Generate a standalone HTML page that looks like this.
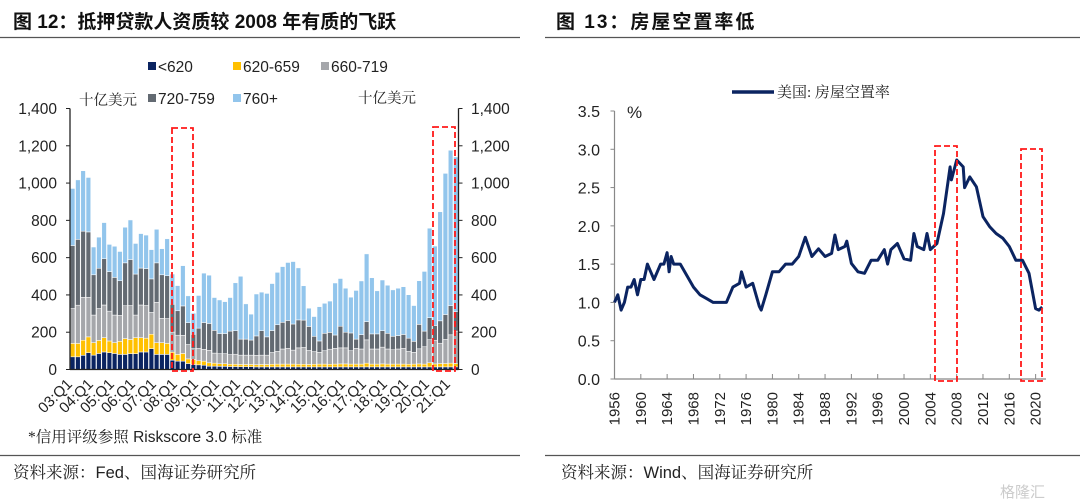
<!DOCTYPE html>
<html><head><meta charset="utf-8">
<style>
body{margin:0;background:#fff;}
svg{display:block;font-family:"Liberation Sans","Noto Sans CJK SC",sans-serif;}
.cn{font-family:"Liberation Serif","Noto Serif CJK SC",serif;}
</style></head>
<body>
<svg id="root" width="1080" height="504" viewBox="0 0 1080 504">
  <text x="13" y="28" font-size="19" font-weight="bold" fill="#111">图 12：抵押贷款人资质较 2008 年有质的飞跃</text>
  <text x="556" y="28" font-size="19" font-weight="bold" fill="#111" letter-spacing="2">图 13：房屋空置率低</text>
  <line x1="0" y1="37.5" x2="520" y2="37.5" stroke="#555" stroke-width="1.2"/>
  <line x1="545" y1="37.5" x2="1080" y2="37.5" stroke="#555" stroke-width="1.2"/>
  <line x1="0" y1="455.5" x2="520" y2="455.5" stroke="#555" stroke-width="1.2"/>
  <line x1="545" y1="455.5" x2="1080" y2="455.5" stroke="#555" stroke-width="1.2"/>
  <text x="13" y="478" font-size="16.5" class="cn" fill="#222">资料来源：<tspan font-family="Liberation Sans">Fed</tspan>、国海证券研究所</text>
  <text x="561" y="478" font-size="16.5" class="cn" fill="#222">资料来源：<tspan font-family="Liberation Sans">Wind</tspan>、国海证券研究所</text>
  <text x="28" y="442" font-size="15.5" fill="#222"><tspan class="cn">*信用评级参照</tspan> Riskscore 3.0 <tspan class="cn">标准</tspan></text>
  <text x="1000" y="497" font-size="15" fill="#ccc">格隆汇</text>
  <g id="left"></g>
  <g id="right"></g>
</svg>
<script>
const NS="http://www.w3.org/2000/svg";
function mk(tag,attrs,parent,txt){const e=document.createElementNS(NS,tag);for(const k in attrs)e.setAttribute(k,attrs[k]);if(txt!==undefined)e.textContent=txt;parent.appendChild(e);return e;}

// ---------- Left chart data ----------
const quarterLabels=["03:Q1","04:Q1","05:Q1","06:Q1","07:Q1","08:Q1","09:Q1","10:Q1","11:Q1","12:Q1","13:Q1","14:Q1","15:Q1","16:Q1","17:Q1","18:Q1","19:Q1","20:Q1","21:Q1"];
const seriesNames=["<620","620-659","660-719","720-759","760+"];
const seriesColors=["#0b2461","#ffc000","#a5a7ab","#636a72","#92c5ec"];
const sLt620=[68,68,76,90,77,86,94,90,86,81,81,85,85,94,94,112,81,81,81,50,45,45,32,27,25,23,18,18,17,17,16,16,15,15,15,14,14,14,14,14,14,14,14,14,14,14,14,14,14,14,14,14,14,14,14,14,14,14,14,14,14,14,14,14,14,14,14,14,14,14,14,14,14,14];
const s620=[72,72,81,85,67,70,77,63,58,70,85,76,86,77,74,77,63,63,59,43,36,41,25,27,22,22,18,16,14,14,12,12,12,12,12,12,13,13,14,15,15,15,15,14,14,13,14,15,15,14,15,16,16,15,15,15,20,15,15,16,15,15,15,15,14,15,16,15,22,16,18,18,20,18];
const s660=[187,205,230,212,148,171,175,160,148,140,176,182,121,175,175,117,216,130,133,108,103,97,77,58,67,63,67,54,54,54,52,54,50,50,50,50,50,50,63,68,81,84,75,88,90,75,68,63,72,81,84,86,86,72,84,81,125,81,81,90,81,77,81,84,70,63,81,93,124,127,109,129,152,174];
const s720=[338,353,355,351,216,216,248,212,202,185,230,247,220,198,198,180,212,234,230,149,131,158,117,77,108,144,144,122,108,108,126,126,86,86,81,104,131,98,118,143,143,150,140,150,147,129,82,61,93,90,72,116,84,95,50,77,98,81,81,88,84,72,72,75,70,59,131,84,118,79,120,134,156,104];
const s760=[306,319,324,292,149,167,194,146,167,157,191,212,164,185,180,157,180,140,198,162,135,216,144,113,175,265,259,176,180,171,180,257,337,189,139,225,207,233,252,281,299,311,335,279,184,98,106,184,161,168,279,256,236,192,261,288,363,301,231,272,258,249,254,256,233,192,234,320,480,426,585,757,834,830];
const leftTicks=[0,200,400,600,800,1000,1200,1400];

const L=document.getElementById('left');
const lx0=70,lx1=458.5,ly0=369.5,ly1=108.5,lmax=1400;
const nBars=sLt620.length;
const pitch=(lx1-lx0)/nBars;
function lx(i){return lx0+pitch*(i+0.5);}
function ly(v){return ly0-(v/lmax)*(ly0-ly1);}
const series=[sLt620,s620,s660,s720,s760];
for(let i=0;i<nBars;i++){
  let acc=0;
  for(let s=0;s<series.length;s++){
    const v=series[s][i];
    const r=mk('rect',{x:(lx(i)-pitch/2+0.3).toFixed(2),y:ly(acc+v).toFixed(2),width:(pitch-0.6).toFixed(2),height:(ly(acc)-ly(acc+v)).toFixed(2),fill:seriesColors[s],stroke:'#fff','stroke-width':0.5},L);
    
    
    acc+=v;
  }
}
let a=mk('line',{x1:lx0,y1:ly1,x2:lx0,y2:ly0,stroke:'#222','stroke-width':1.3},L);

a=mk('line',{x1:lx1,y1:ly1,x2:lx1,y2:ly0,stroke:'#222','stroke-width':1.3},L);

a=mk('line',{x1:lx0,y1:ly0,x2:lx1,y2:ly0,stroke:'#222','stroke-width':1.3},L);

for(const t of leftTicks){
  const y=ly(t);
  mk('line',{x1:lx0-4,y1:y,x2:lx0,y2:y,stroke:'#222'},L);
  mk('line',{x1:lx1,y1:y,x2:lx1+4,y2:y,stroke:'#222'},L);
  const lab=t.toLocaleString('en-US');
  let e=mk('text',{x:57,y:y+5.5,'font-size':15.5,'text-anchor':'end',fill:'#222'},L,lab);
  
  e=mk('text',{x:471,y:y+5.5,'font-size':15.5,fill:'#222'},L,lab);
  
}
for(let k=0;k<quarterLabels.length;k++){
  const i=k*4; const x=lx0+pitch*i+3;
  const e=mk('text',{x:x,y:385,'font-size':15,'text-anchor':'end',fill:'#222',transform:`rotate(-45 ${x} 385)`},L,quarterLabels[k]);
  
}
const legPos=[[160,72],[245,72],[333,72],[160,104],[245,104]];
for(let s=0;s<5;s++){
  const g=mk('g',{},L);
  
  
  mk('rect',{x:legPos[s][0]-12,y:legPos[s][1]-10,width:8,height:8,fill:seriesColors[s]},g);
  mk('text',{x:legPos[s][0]-2,y:legPos[s][1],'font-size':15.5,fill:'#222'},g,seriesNames[s]);
}
let u=mk('text',{x:79,y:105,'font-size':14.5,fill:'#222',class:'cn'},L,'十亿美元');

u=mk('text',{x:358,y:103,'font-size':14.5,fill:'#222',class:'cn'},L,'十亿美元');

let b=mk('rect',{x:172,y:128,width:21,height:243,fill:'none',stroke:'#ff1a1a','stroke-width':1.8,'stroke-dasharray':'6 3'},L);

b=mk('rect',{x:433,y:127,width:22,height:244,fill:'none',stroke:'#ff1a1a','stroke-width':1.8,'stroke-dasharray':'6 3'},L);


// ---------- Right chart data ----------
const years=[1956,1956.5,1957,1957.5,1958,1958.5,1959,1959.5,1960,1960.5,1961,1961.5,1962,1962.5,1963,1963.5,1964,1964.3,1964.6,1965,1966,1967,1968,1969,1970,1971,1972,1973,1974,1975,1975.3,1976,1977,1978,1978.3,1979,1980,1981,1982,1983,1984,1985,1986,1987,1988,1989,1989.5,1990,1991,1991.3,1992,1993,1994,1995,1996,1997,1997.5,1998,1999,2000,2001,2001.5,2002,2003,2003.5,2004,2005,2006,2007,2007.2,2008,2009,2009.2,2010,2011,2012,2013,2014,2015,2016,2017,2018,2019,2020,2020.5,2021];
const vacancy=[1.0,1.1,0.9,1.0,1.2,1.2,1.3,1.1,1.3,1.3,1.5,1.4,1.3,1.4,1.5,1.5,1.65,1.4,1.6,1.5,1.5,1.35,1.2,1.1,1.05,1.0,1.0,1.0,1.2,1.25,1.4,1.2,1.25,0.95,0.9,1.1,1.4,1.4,1.5,1.5,1.6,1.85,1.6,1.7,1.6,1.64,1.88,1.69,1.73,1.8,1.51,1.4,1.38,1.55,1.55,1.69,1.5,1.69,1.77,1.57,1.55,1.9,1.73,1.69,1.9,1.69,1.77,2.16,2.77,2.6,2.86,2.77,2.5,2.64,2.51,2.12,1.99,1.9,1.84,1.73,1.55,1.55,1.38,0.92,0.9,0.94];
const rightTicks=[0,0.5,1.0,1.5,2.0,2.5,3.0,3.5];
const yearTicks=[1956,1960,1964,1968,1972,1976,1980,1984,1988,1992,1996,2000,2004,2008,2012,2016,2020];

const R=document.getElementById('right');
const rx0=614.5,ry0=379,ry1=111,rmax=3.5;
function rx(yr){return rx0+(yr-1956)*6.58;}
function ry(v){return ry0-(v/rmax)*(ry0-ry1);}
a=mk('line',{x1:rx0,y1:ry1,x2:rx0,y2:ry0,stroke:'#888','stroke-width':1.2},R);

a=mk('line',{x1:rx0,y1:ry0,x2:1046,y2:ry0,stroke:'#888','stroke-width':1.2},R);

for(const t of rightTicks){
  const y=ry(t);
  mk('line',{x1:rx0-4,y1:y,x2:rx0,y2:y,stroke:'#888'},R);
  const e=mk('text',{x:600,y:y+6,'font-size':16,'text-anchor':'end',fill:'#222'},R,t.toFixed(1));
  
}
for(const yr of yearTicks){
  const x=rx(yr);
  mk('line',{x1:x,y1:ry0,x2:x,y2:ry0-5,stroke:'#888'},R);
  const e=mk('text',{x:x+5,y:392,'font-size':15,'text-anchor':'end',fill:'#222',transform:`rotate(-90 ${x+5} 392)`},R,String(yr));
  
}
let pts=years.map((yr,i)=>rx(yr).toFixed(1)+','+ry(vacancy[i]).toFixed(1)).join(' ');
const ln=mk('polyline',{points:pts,fill:'none',stroke:'#0b2461','stroke-width':3,'stroke-linejoin':'round'},R);

let p=mk('text',{x:627,y:118,'font-size':17,fill:'#222'},R,'%');

const lg=mk('g',{},R);


mk('line',{x1:732,y1:92,x2:774,y2:92,stroke:'#0b2461','stroke-width':3.5},lg);
mk('text',{x:777,y:97,'font-size':15,fill:'#222',class:'cn'},lg,'美国: 房屋空置率');
b=mk('rect',{x:935,y:146,width:22,height:235,fill:'none',stroke:'#ff1a1a','stroke-width':1.8,'stroke-dasharray':'6 3'},R);

b=mk('rect',{x:1021,y:149,width:21,height:232,fill:'none',stroke:'#ff1a1a','stroke-width':1.8,'stroke-dasharray':'6 3'},R);

</script>
</body></html>
